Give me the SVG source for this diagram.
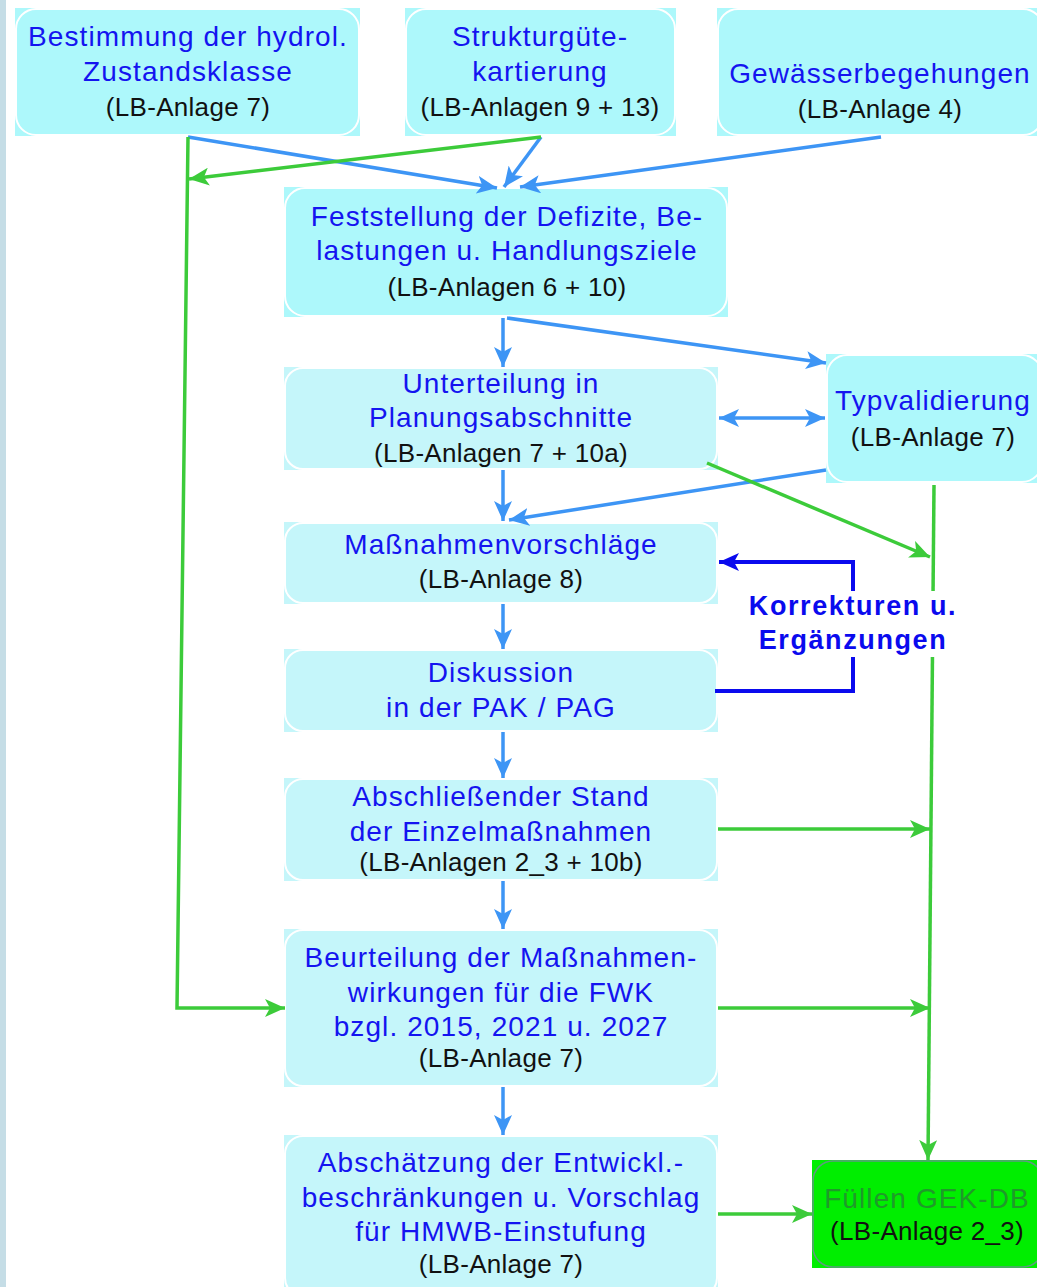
<svg xmlns="http://www.w3.org/2000/svg" width="1037" height="1287" viewBox="0 0 1037 1287">
<defs>
<style>
.bg1{fill:#adf8fb}
.bg2{fill:#c5f6fa}
.rim{fill:none;stroke:#ffffff;stroke-width:2}
.t{font-family:"Liberation Sans",Arial,sans-serif;font-size:28px;fill:#1414f0;text-anchor:middle;letter-spacing:1.1px}
.s{font-family:"Liberation Sans",Arial,sans-serif;font-size:26px;fill:#111111;text-anchor:middle;letter-spacing:0.3px}
.k{font-family:"Liberation Sans",Arial,sans-serif;font-size:27px;font-weight:bold;fill:#0a0aee;text-anchor:middle;letter-spacing:1.6px}
.b{fill:none;stroke:#3d95f5;stroke-width:3.5}
.g{fill:none;stroke:#3ccb3a;stroke-width:3.5}
.d{fill:none;stroke:#0a0aee;stroke-width:4}
</style>
<marker id="ab" markerUnits="userSpaceOnUse" markerWidth="22" markerHeight="18" refX="20" refY="9" orient="auto-start-reverse"><path d="M0,0 L20,9 L0,18 L5,9 z" fill="#3d95f5"/></marker>
<marker id="ag" markerUnits="userSpaceOnUse" markerWidth="22" markerHeight="18" refX="20" refY="9" orient="auto-start-reverse"><path d="M0,0 L20,9 L0,18 L5,9 z" fill="#3ccb3a"/></marker>
<marker id="ad" markerUnits="userSpaceOnUse" markerWidth="22" markerHeight="18" refX="20" refY="9" orient="auto-start-reverse"><path d="M0,0 L20,9 L0,18 L5,9 z" fill="#0a0aee"/></marker>
</defs>
<rect x="0" y="0" width="1037" height="1287" fill="#ffffff"/>
<rect x="0" y="0" width="6" height="1287" fill="#c5dde6"/>

<g id="n-hydrol">
<rect class="bg1" x="15" y="8" width="345" height="128"/>
<rect class="rim" x="16" y="9" width="343" height="126" rx="20"/>
<text class="t" x="188" y="46">Bestimmung der hydrol.</text>
<text class="t" x="188" y="81">Zustandsklasse</text>
<text class="s" x="188" y="116">(LB-Anlage 7)</text>
</g>

<g id="n-struktur">
<rect class="bg1" x="405" y="8" width="271" height="128"/>
<rect class="rim" x="406" y="9" width="269" height="126" rx="20"/>
<text class="t" x="540" y="46">Strukturgüte-</text>
<text class="t" x="540" y="81">kartierung</text>
<text class="s" x="540" y="116">(LB-Anlagen 9 + 13)</text>
</g>

<g id="n-begehung">
<rect class="bg1" x="717" y="8" width="320" height="128"/>
<rect class="rim" x="718" y="9" width="325" height="126" rx="20"/>
<text class="t" x="880" y="83">Gewässerbegehungen</text>
<text class="s" x="880" y="118">(LB-Anlage 4)</text>
</g>

<g id="n-defizite">
<rect class="bg1" x="284" y="187" width="444" height="130"/>
<rect class="rim" x="285" y="188" width="442" height="128" rx="20"/>
<text class="t" x="507" y="226">Feststellung der Defizite, Be-</text>
<text class="t" x="507" y="260">lastungen u. Handlungsziele</text>
<text class="s" x="507" y="296">(LB-Anlagen 6 + 10)</text>
</g>

<g id="n-unterteilung">
<rect class="bg2" x="284" y="367" width="434" height="103"/>
<rect class="rim" x="285" y="368" width="432" height="101" rx="18"/>
<text class="t" x="501" y="393">Unterteilung in</text>
<text class="t" x="501" y="427">Planungsabschnitte</text>
<text class="s" x="501" y="462">(LB-Anlagen 7 + 10a)</text>
</g>

<g id="n-typ">
<rect class="bg1" x="826" y="354" width="211" height="129"/>
<rect class="rim" x="827" y="355" width="215" height="127" rx="20"/>
<text class="t" x="933" y="410">Typvalidierung</text>
<text class="s" x="933" y="446">(LB-Anlage 7)</text>
</g>

<g id="n-massnahmen">
<rect class="bg2" x="284" y="522" width="434" height="82"/>
<rect class="rim" x="285" y="523" width="432" height="80" rx="18"/>
<text class="t" x="501" y="554">Maßnahmenvorschläge</text>
<text class="s" x="501" y="588">(LB-Anlage 8)</text>
</g>

<g id="n-diskussion">
<rect class="bg2" x="284" y="649" width="434" height="83"/>
<rect class="rim" x="285" y="650" width="432" height="81" rx="18"/>
<text class="t" x="501" y="682">Diskussion</text>
<text class="t" x="501" y="717">in der PAK / PAG</text>
</g>

<g id="n-abschliessend">
<rect class="bg2" x="284" y="778" width="434" height="103"/>
<rect class="rim" x="285" y="779" width="432" height="101" rx="18"/>
<text class="t" x="501" y="806">Abschließender Stand</text>
<text class="t" x="501" y="841">der Einzelmaßnahmen</text>
<text class="s" x="501" y="871">(LB-Anlagen 2_3 + 10b)</text>
</g>

<g id="n-beurteilung">
<rect class="bg2" x="284" y="929" width="434" height="158"/>
<rect class="rim" x="285" y="930" width="432" height="156" rx="18"/>
<text class="t" x="501" y="967">Beurteilung der Maßnahmen-</text>
<text class="t" x="501" y="1002">wirkungen für die FWK</text>
<text class="t" x="501" y="1036">bzgl. 2015, 2021 u. 2027</text>
<text class="s" x="501" y="1067">(LB-Anlage 7)</text>
</g>

<g id="n-abschaetzung">
<rect class="bg2" x="284" y="1135" width="434" height="152"/>
<rect class="rim" x="285" y="1136" width="432" height="160" rx="18"/>
<text class="t" x="501" y="1172">Abschätzung der Entwickl.-</text>
<text class="t" x="501" y="1207">beschränkungen u. Vorschlag</text>
<text class="t" x="501" y="1241">für HMWB-Einstufung</text>
<text class="s" x="501" y="1273">(LB-Anlage 7)</text>
</g>

<g id="n-gekdb">
<rect x="812" y="1160" width="225" height="108" fill="#00ee00"/>
<rect x="813" y="1161" width="230" height="106" rx="20" fill="none" stroke="#5e9a80" stroke-width="1.5"/>
<text class="t" x="927" y="1208" style="fill:#1f9a2a">Füllen GEK-DB</text>
<text class="s" x="927" y="1240">(LB-Anlage 2_3)</text>
</g>

<g id="connectors">
<line class="b" x1="188" y1="137" x2="497" y2="188" marker-end="url(#ab)"/>
<line class="b" x1="541" y1="137" x2="504" y2="187" marker-end="url(#ab)"/>
<line class="b" x1="881" y1="137" x2="520" y2="187" marker-end="url(#ab)"/>
<line class="g" x1="541" y1="137" x2="189" y2="179" marker-end="url(#ag)"/>
<polyline class="g" points="188,137 177,1008 285,1008" marker-end="url(#ag)"/>
<line class="b" x1="503" y1="318" x2="503" y2="367" marker-end="url(#ab)"/>
<line class="b" x1="507" y1="318" x2="826" y2="363" marker-end="url(#ab)"/>
<line class="b" x1="719" y1="418" x2="825" y2="418" marker-start="url(#ab)" marker-end="url(#ab)"/>
<line class="b" x1="826" y1="470" x2="509" y2="520" marker-end="url(#ab)"/>
<line class="b" x1="503" y1="470" x2="503" y2="521" marker-end="url(#ab)"/>
<line class="g" x1="707" y1="463" x2="930" y2="557" marker-end="url(#ag)"/>
<line class="g" x1="934" y1="485" x2="928" y2="1160" marker-end="url(#ag)"/>
<polyline class="d" points="715,691 853,691 853,562 719,562" marker-end="url(#ad)"/>
<line class="b" x1="503" y1="604" x2="503" y2="649" marker-end="url(#ab)"/>
<line class="b" x1="503" y1="732" x2="503" y2="778" marker-end="url(#ab)"/>
<line class="b" x1="503" y1="881" x2="503" y2="929" marker-end="url(#ab)"/>
<line class="b" x1="503" y1="1087" x2="503" y2="1135" marker-end="url(#ab)"/>
<line class="g" x1="718" y1="829" x2="930" y2="829" marker-end="url(#ag)"/>
<line class="g" x1="718" y1="1008" x2="930" y2="1008" marker-end="url(#ag)"/>
<line class="g" x1="718" y1="1214" x2="812" y2="1214" marker-end="url(#ag)"/>
</g>

<g id="label-korrekturen">
<rect x="745" y="591" width="212" height="66" fill="#ffffff"/>
<text class="k" x="853" y="615">Korrekturen u.</text>
<text class="k" x="853" y="649">Ergänzungen</text>
</g>
</svg>
